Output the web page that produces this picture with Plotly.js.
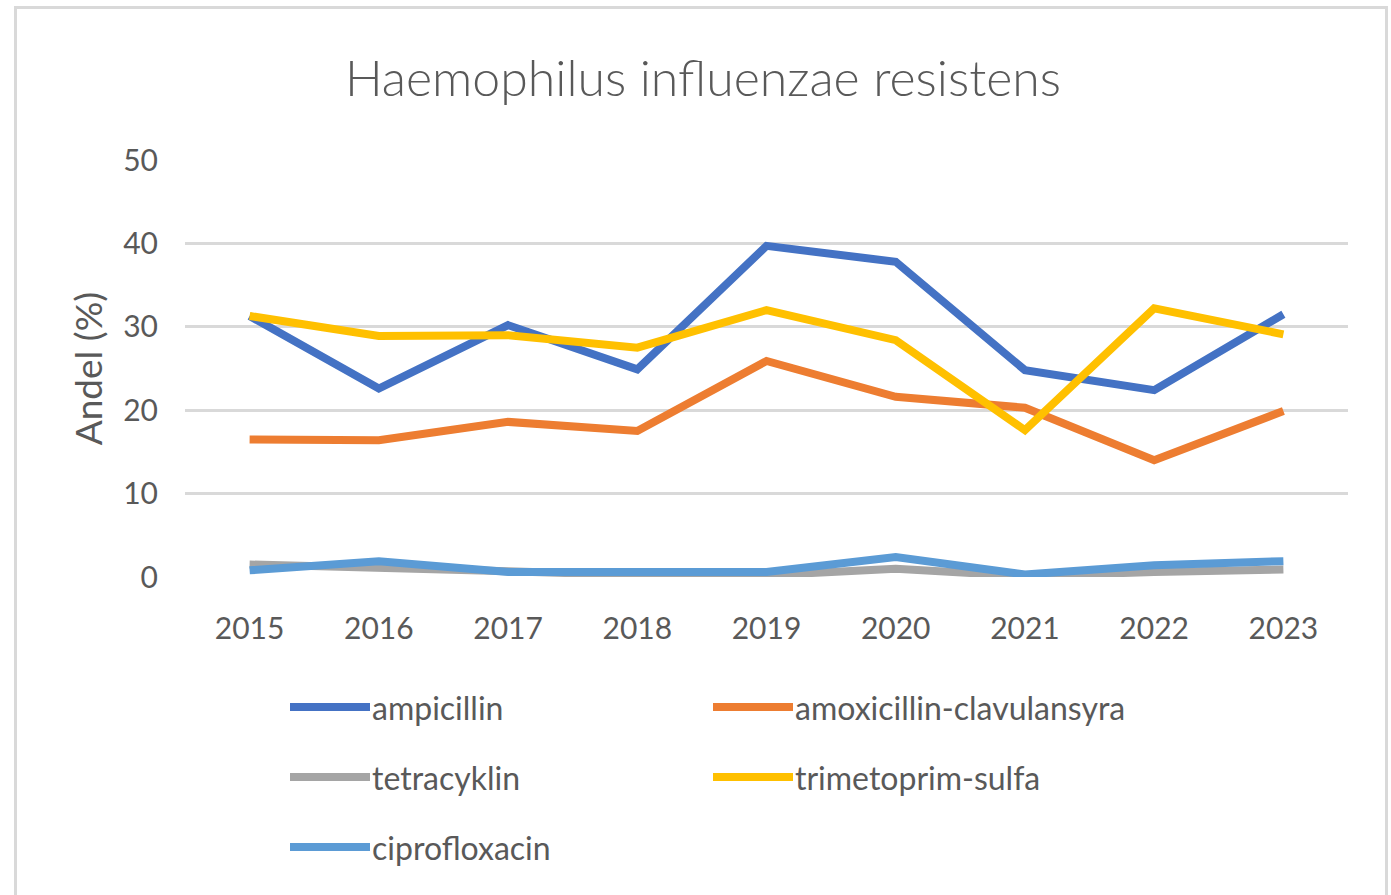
<!DOCTYPE html>
<html>
<head>
<meta charset="utf-8">
<script src="https://cdn.plot.ly/plotly-3.0.1.min.js"></script>
<style>
  html, body { margin: 0; padding: 0; background: #ffffff; overflow: hidden; }
  #frame { position: absolute; left: 14px; top: 6px; width: 1368px; height: 900px; border: 3px solid #d9d9d9; border-bottom: none; }
  #chart { position: absolute; left: 0; top: 0; width: 1391px; height: 895px; }
</style>
</head>
<body>
<div id="frame"></div>
<div id="chart"></div>
<script>
const years = ["2015", "2016", "2017", "2018", "2019", "2020", "2021", "2022", "2023"];
const ampicillin = [31.3, 22.6, 30.2, 24.9, 39.7, 37.8, 24.8, 22.4, 31.5];
const amoxicillinClavulansyra = [16.5, 16.4, 18.6, 17.5, 25.9, 21.6, 20.3, 14.0, 19.9];
const tetracyklin = [1.5, 1.2, 0.7, 0.2, 0.2, 1.0, 0.1, 0.6, 0.9];
const trimetoprimSulfa = [31.3, 28.9, 29.0, 27.5, 32.0, 28.4, 17.6, 32.2, 29.1];
const ciprofloxacin = [0.8, 1.9, 0.6, 0.6, 0.6, 2.4, 0.3, 1.4, 1.9];

const seriesNames = ["ampicillin", "amoxicillin-clavulansyra", "tetracyklin", "trimetoprim-sulfa", "ciprofloxacin"];
const seriesValues = [ampicillin, amoxicillinClavulansyra, tetracyklin, trimetoprimSulfa, ciprofloxacin];
const seriesColors = ["#4472C4", "#ED7D31", "#A5A5A5", "#FFC000", "#5B9BD5"];

const traces = seriesNames.map((n, i) => ({
  type: "scatter",
  mode: "lines",
  name: n,
  x: years,
  y: seriesValues[i],
  line: { color: seriesColors[i], width: 8, shape: "linear" },
  hoverinfo: "x+y+name"
}));

// Manual legend (two columns, Excel-style long line keys)
const plotL = 185, plotR = 1348, plotT = 160, plotB = 577;
const pw = plotR - plotL, ph = plotB - plotT;
const px2x = p => (p - plotL) / pw;
const py2y = p => (plotB - p) / ph;
const legendPos = [
  [290, 707], [713, 707],
  [290, 777], [713, 777],
  [290, 847]
];
const shapes = [];
const annotations = [];
seriesNames.forEach((n, i) => {
  const [lx, ly] = legendPos[i];
  shapes.push({
    type: "line", xref: "paper", yref: "paper",
    x0: px2x(lx), x1: px2x(lx + 80), y0: py2y(ly), y1: py2y(ly),
    line: { color: seriesColors[i], width: 8 }
  });
  annotations.push({
    xref: "paper", yref: "paper", x: px2x(lx + 80), y: py2y(ly),
    xanchor: "left", yanchor: "middle", showarrow: false,
    text: n, font: { family: "Lato, sans-serif", size: 32, color: "#595959" }
  });
});

const layout = {
  width: 1391, height: 895,
  paper_bgcolor: "rgba(0,0,0,0)",
  plot_bgcolor: "rgba(0,0,0,0)",
  margin: { l: plotL, r: 1391 - plotR, t: plotT, b: 895 - plotB, pad: 0 },
  showlegend: false,
  title: {
    text: "Haemophilus influenzae resistens",
    font: { family: "Lato, sans-serif", size: 50, color: "#595959", weight: 300 },
    x: 703 / 1391, xanchor: "center", xref: "container",
    y: 1 - 78 / 895, yanchor: "middle", yref: "container"
  },
  xaxis: {
    type: "category",
    range: [-0.5, 8.5],
    showgrid: false, zeroline: false, showline: false,
    ticks: "outside", ticklen: 25, tickcolor: "rgba(0,0,0,0)",
    tickfont: { family: "Lato, sans-serif", size: 30, color: "#595959" },
    fixedrange: true
  },
  yaxis: {
    range: [0, 50], dtick: 10, tick0: 0,
    showgrid: true, gridcolor: "#d9d9d9", gridwidth: 3,
    zeroline: false, showline: false,
    ticks: "outside", ticklen: 20, tickcolor: "rgba(0,0,0,0)",
    tickfont: { family: "Lato, sans-serif", size: 30, color: "#595959" },
    title: { text: "Andel (%)", standoff: 9, font: { family: "Lato, sans-serif", size: 37, color: "#595959" } },
    fixedrange: true
  },
  shapes: shapes,
  annotations: annotations
};

Plotly.newPlot("chart", traces, layout, { displayModeBar: false, staticPlot: true });
</script>
</body>
</html>
